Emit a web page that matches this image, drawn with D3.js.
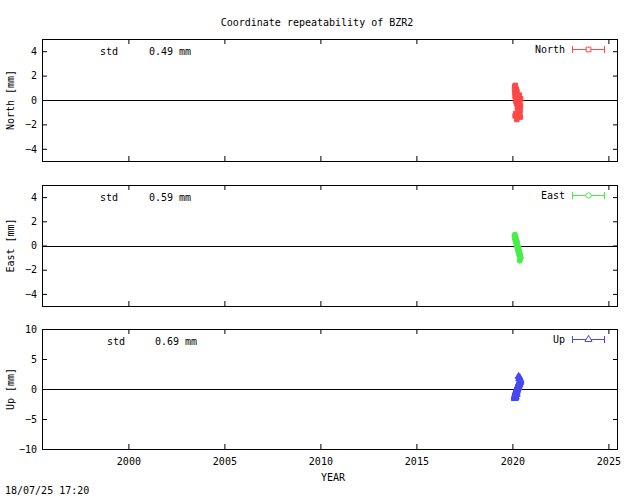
<!DOCTYPE html>
<html><head><meta charset="utf-8">
<script src="https://cdn.jsdelivr.net/npm/d3@7"></script>
<style>
body{margin:0;background:#fff;}
svg text{font-family:"DejaVu Sans Mono",monospace;font-size:10px;fill:#000;}
</style></head>
<body><svg id="c" width="640" height="496"></svg>
<script>
const title = "Coordinate repeatability of BZR2";
const components = ["North","East","Up"];
const stdValues = ["0.49","0.59","0.69"];
const stdUnit = "mm";
const yDomains = [[-5,5],[-5,5],[-10,10]];
const yTicks = [[-4,-2,0,2,4],[-4,-2,0,2,4],[-10,-5,0,5,10]];
const xTicks = [2000,2005,2010,2015,2020,2025];
const dates = [2020.11,2020.12,2020.13,2020.14,2020.15,2020.16,2020.17,2020.18,2020.19,2020.20,
               2020.21,2020.22,2020.23,2020.24,2020.25,2020.26,2020.27,2020.28,2020.29,2020.30,
               2020.31,2020.32,2020.33,2020.34,2020.35,2020.36,2020.37,2020.38,2020.39,2020.40,
               2020.41,2020.42,2020.43,2020.17,2020.23,2020.29,2020.35,2020.14,2020.32,2020.38];
const north = [0.9,1.1,0.6,0.3,1.2,0.8,0.2,-0.1,0.5,0.9,
               0.4,-0.3,0.1,0.7,-0.2,-0.6,0.3,0.0,-0.4,-0.8,
               0.2,-0.1,-0.5,-1.0,-0.3,0.4,-0.7,-1.2,-0.2,-0.9,
               -1.4,-0.5,0.1,-1.1,-1.6,-0.6,-0.3,-1.3,-0.8,0.0];
const east = [0.8,0.7,0.9,0.6,0.5,0.7,0.4,0.5,0.3,0.2,
              0.4,0.1,0.2,0.0,-0.1,0.1,-0.2,-0.3,-0.1,-0.4,
              -0.3,-0.5,-0.6,-0.4,-0.7,-0.6,-0.8,-0.9,-0.7,-1.0,
              -0.9,-1.1,-1.0,0.6,0.3,-0.2,-0.5,0.75,-0.45,-1.25];
const up = [-1.5,-1.2,-1.6,-0.9,-1.1,-0.7,-1.3,-0.5,-0.8,-0.3,
            -0.6,-0.1,-0.4,0.1,-0.2,0.3,0.0,0.4,0.2,0.6,
            0.3,0.8,0.5,0.9,0.7,1.1,0.8,1.2,1.0,1.4,
            1.1,1.5,1.3,-1.4,-0.9,0.2,1.7,-1.2,2.1,1.9];
const sigmas = [0.1,0.1,0.3];
const series = [north,east,up];
const timestamp = "18/07/25 17:20";

const colors = ["#ff4848","#48ee48","#4848f0"];
const symbols = [d3.symbolSquare, d3.symbolCircle, d3.symbolTriangle];
const panelTops = [39,185,329], panelBottoms = [161,306,449];
const L = 42, R = 618;

const svg = d3.select("#c");
function txt(sel){ return sel.attr("fill","#000").style("font-family","DejaVu Sans Mono").style("font-size","10px"); }
txt(svg.append("text").attr("x",317).attr("y",26).attr("text-anchor","middle")).text(title);

const x = d3.scaleLinear().domain([1995.5,2025.5]).range([L,R]);

components.forEach((name,i)=>{
  const y = d3.scaleLinear().domain(yDomains[i]).range([panelBottoms[i],panelTops[i]]);
  const g = svg.append("g");
  const ya = g.append("g").attr("transform",`translate(${L},0)`)
    .call(d3.axisLeft(y).tickValues(yTicks[i]).tickSize(-5).tickPadding(5).tickFormat(d3.format("d")));
  const yr = g.append("g").attr("transform",`translate(${R},0)`)
    .call(d3.axisRight(y).tickValues(yTicks[i]).tickSize(-5).tickFormat(""));
  const xb = g.append("g").attr("transform",`translate(0,${panelBottoms[i]})`)
    .call(d3.axisBottom(x).tickValues(xTicks).tickSize(-5).tickPadding(9).tickFormat(i===2?d3.format("d"):""));
  const xt = g.append("g").attr("transform",`translate(0,${panelTops[i]})`)
    .call(d3.axisTop(x).tickValues(xTicks).tickSize(-5).tickFormat(""));
  [ya,yr,xb,xt].forEach(a=>{
    a.select(".domain").remove();
    a.selectAll("line").attr("stroke","#000");
    txt(a.selectAll("text"));
  });
  g.append("rect").attr("x",L+0.5).attr("y",panelTops[i]+0.5)
    .attr("width",R-L-1).attr("height",panelBottoms[i]-panelTops[i])
    .attr("fill","none").attr("stroke","#000");
  g.append("line").attr("x1",L).attr("x2",R).attr("y1",Math.round(y(0))+0.5).attr("y2",Math.round(y(0))+0.5)
    .attr("stroke","#000");
  const cy = (panelTops[i]+panelBottoms[i])/2;
  txt(g.append("text").attr("transform",`translate(14,${cy}) rotate(-90)`).attr("text-anchor","middle"))
    .text(name+" [mm]");
  const sx = i===2 ? 107 : 100, vx = i===2 ? 155 : 149;
  txt(g.append("text").attr("x",sx).attr("y",panelTops[i]+16)).text("std");
  txt(g.append("text").attr("x",vx).attr("y",panelTops[i]+16)).text(stdValues[i]);
  txt(g.append("text").attr("x",vx+30).attr("y",panelTops[i]+16)).text(stdUnit);
  const ly = panelTops[i]+10;
  txt(g.append("text").attr("x",565).attr("y",ly+4).attr("text-anchor","end")).text(name);
  const lg = g.append("g").attr("stroke",colors[i]).attr("fill","none");
  lg.append("line").attr("x1",572).attr("x2",605).attr("y1",ly+0.5).attr("y2",ly+0.5);
  lg.append("line").attr("x1",572.5).attr("x2",572.5).attr("y1",ly-3).attr("y2",ly+4);
  lg.append("line").attr("x1",604.5).attr("x2",604.5).attr("y1",ly-3).attr("y2",ly+4);
  lg.append("path").attr("transform",`translate(588.5,${ly+0.5})`)
    .attr("d",d3.symbol().type(symbols[i]).size(22)()).attr("fill","#fff");
  const vals = series[i];
  const dg = g.append("g").attr("stroke",colors[i]).attr("fill","none");
  vals.forEach((v,k)=>{
    dg.append("line").attr("x1",x(dates[k])).attr("x2",x(dates[k]))
      .attr("y1",y(v-sigmas[i])).attr("y2",y(v+sigmas[i]));
  });
  dg.selectAll("path").data(vals).join("path")
    .attr("transform",(v,k)=>`translate(${x(dates[k])},${y(v)})`)
    .attr("d",d3.symbol().type(symbols[i]).size(20)())
    .attr("fill",colors[i]);
});

txt(svg.append("text").attr("x",333).attr("y",481).attr("text-anchor","middle")).text("YEAR");
txt(svg.append("text").attr("x",5).attr("y",494)).text(timestamp);
</script></body></html>
